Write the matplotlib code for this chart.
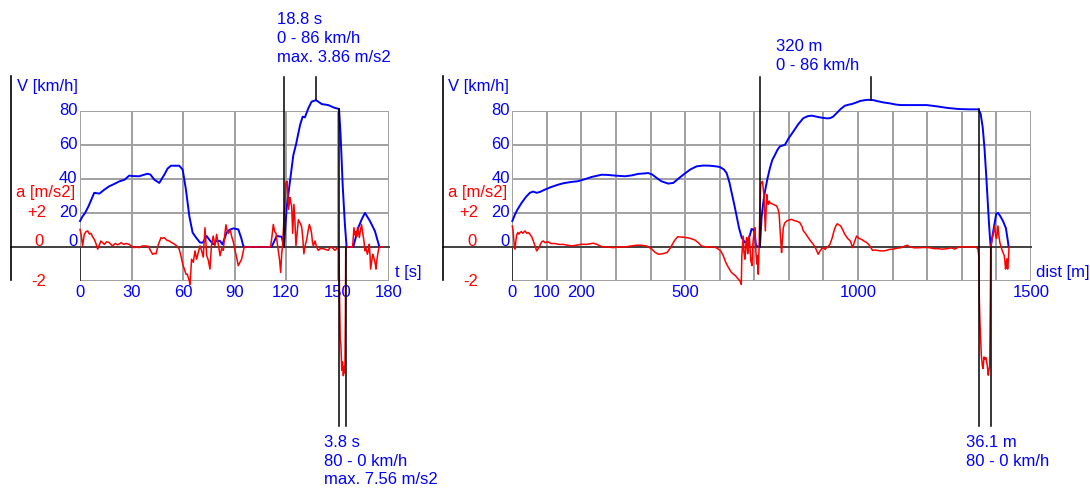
import numpy as np
import matplotlib.pyplot as plt

# ── Style ───────────────────────────────────────────
plt.rcParams['font.family'] = ['Liberation Sans', 'DejaVu Sans']
BLUE = "#0000ff"
RED = "#ff0000"
GRID = "#a0a0a0"
FS = 12

# ── Data: speed / acceleration vs time ──────────────
t_v = [0, 1.5, 3, 5, 8.3, 11.3, 14, 17, 20, 22.9, 26, 28.7, 31, 34.5, 37, 39.4, 41,
       43.3, 46.2, 49.1, 51, 53, 57.8, 59.8, 61.7, 63.7, 65.6, 67.6, 69.9, 71.5, 73.8,
       75.5, 77.6, 79.5, 81.6, 83, 85.4, 87, 89.3, 92.2, 94, 95.1, 96, 111.6, 113,
       114.6, 117.5, 118.8, 120.4, 122.3, 124.3, 125.8, 128.2, 129.7, 131, 133, 134.9,
       137.5, 140.8, 144.6, 148, 150.9, 151.8, 153, 154.3, 155.3, 159.2, 162.1, 164,
       166, 168.9, 171.8, 174.4]
v_t = [15.2, 18, 20, 24, 31.8, 31.3, 33.5, 35.6, 37, 38.5, 39.5, 41.9, 41.6, 41.5, 42.3,
       43, 42.5, 39.5, 37.6, 42.4, 46, 47.7, 47.7, 45.4, 33.7, 18, 8.4, 5.5, 2.6, 2.5,
       6.4, 4, 1.6, 3.5, 3.5, 1.5, 8.4, 10, 10.9, 10.3, 5, 0.6, 0, 0, 3, 6.4, 6, 0, 23,
       38.5, 54.1, 60, 71.6, 76.5, 76.1, 81.4, 85.3, 86.2, 83.9, 83.3, 81.8, 81, 65.8,
       36.6, 13.3, 0, 0, 11.3, 16, 20, 15.2, 9.3, 0]

t_a = [0, 0.7, 1.5, 2.5, 3.5, 4.5, 5.5, 6.4, 7.3, 8.3, 9.3, 10.3, 11.2, 12.2, 13.2,
       14.2, 15.5, 17, 18, 19, 20.5, 22, 24, 25.5, 26.8, 28.7, 30, 31.6, 33, 34.5, 36,
       38.4, 40, 41, 42.3, 43.5, 44.3, 45.5, 47.2, 48, 49.1, 50.5, 52, 53.5, 55, 56.5,
       57.8, 58.8, 59.8, 60.8, 61.7, 62.5, 63.7, 64.1, 65, 66, 67, 67.9, 69, 69.9, 70.8,
       71.8, 72.8, 73.8, 74.8, 75.7, 76.6, 77.6, 78.6, 79.6, 80.5, 81.6, 82.5, 83.5,
       84.2, 85, 85.8, 86.5, 87.5, 88.4, 89.3, 90.3, 91.2, 92.2, 93.2, 94.2, 95, 95.7,
       111, 111.8, 112.6, 113.4, 114.2, 114.8, 115.5, 116.3, 116.9, 117.5, 118, 118.8,
       119.4, 119.9, 120.6, 121.1, 121.5, 122.3, 122.8, 123.3, 123.9, 124.6, 125.2,
       125.8, 126.5, 127.2, 128.2, 129.1, 129.8, 130.4, 131.2, 132, 132.8, 133.6, 134.3,
       134.9, 135.4, 135.9, 136.9, 137.8, 138.8, 140, 141.7, 143, 144.6, 145.5, 146.6,
       147.5, 148.5, 149.5, 150.5, 150.9, 151.2, 151.6, 152, 152.5, 152.9, 153.4, 153.9,
       154.3, 154.6, 154.8, 158.8, 159.6, 160.2, 160.7, 161.2, 161.7, 162.2, 162.7,
       163.4, 164, 164.7, 165.4, 166, 166.7, 167.4, 168, 168.5, 169, 169.3, 170, 170.5,
       171.1, 171.6, 172, 172.4, 172.8, 173.2, 173.8, 174.4, 176.7]
a_t = [1.03, 0.7, 0.06, 0.74, 0.9, 0.94, 0.75, 0.8, 0.6, 0.45, 0.2, -0.13, 0.1, 0.35,
       0.25, 0.15, 0.3, 0.26, 0.15, 0.06, 0.2, 0.12, 0.25, 0.15, 0.2, 0.15, 0.05, -0.04,
       0, -0.04, 0.05, 0.06, 0.02, -0.2, -0.43, -0.38, -0.4, 0.1, 0.55, 0.5, 0.55, 0.4,
       0.35, 0.25, 0.16, 0.05, -0.13, -0.52, -1.0, -1.3, -1.6, -1.6, -2.0, -2.2, -0.72,
       -0.9, -0.23, -0.72, -0.3, 0.06, -0.2, -0.6, 1.13, -0.5, -0.8, -1.3, 0.1, 0.64,
       0.06, 0.74, 0.2, -0.52, -0.1, -0.2, 0.6, 1.3, 0.9, 0.8, 1.0, 0.6, 0.3, -0.2, -0.6,
       -1.1, -0.9, -0.7, -0.3, 0, 0, 0.6, 1.32, 0.9, 0.8, 0.3, -0.2, -0.8, -1.5, -0.4,
       0.06, 1.6, 2.5, 3.76, 3.86, 3.0, 2.2, 2.9, 2.6, 2.4, 0.8, 2.5, 1.5, 0.06, 0.8, 1.6,
       1.4, 1.2, 0.5, -0.4, 0.1, 0.4, 0.9, 1.32, 1.1, 0.8, 0.3, 0.06, 0.35, 0, -0.2,
       -0.1, -0.1, -0.15, -0.2, -0.05, 0, -0.1, -0.2, -0.1, 0, -0.5, -3.0, -5.4, -5.8,
       -7.24, -6.75, -7.56, -7.0, -7.4, -4.0, 0, 0, 1.13, 0.7, 0.9, 0.6, 1.13, 0.9, 0.55,
       1.0, 1.32, 0.8, 0.35, -0.23, -0.1, -0.43, -0.2, 0.16, -0.6, -1.3, -0.8, -0.43,
       -0.6, -0.8, -1.0, -1.3, -0.9, -0.6, -0.2, 0, 0]

# ── Data: speed / acceleration vs distance ──────────
d_v = [0, 7.8, 15, 27, 40, 51, 60, 70.6, 80, 94.6, 110, 133, 150, 172, 190, 205, 218,
       229.7, 258.6, 275, 297, 326, 345, 364.5, 384, 393, 405, 417.7, 432, 451, 465.7,
       480, 494.6, 515, 533, 552, 572, 590, 600.8, 612, 620, 628, 634.6, 642, 649, 656,
       663.6, 673, 680, 687.6, 692, 697, 701, 705, 716.5, 721, 726, 731, 738, 745.4, 752,
       760, 767, 774, 781, 788.8, 800, 812.8, 827, 841.8, 855, 866, 880, 895, 910, 919,
       928, 938, 950, 962, 972, 981.8, 995, 1006, 1020, 1030, 1045, 1054, 1075, 1092.6,
       1110, 1124, 1160, 1199, 1230, 1260, 1290, 1320, 1349, 1355, 1361, 1366, 1371,
       1375, 1379, 1382, 1384, 1392, 1400, 1405, 1412, 1420, 1428, 1434, 1436]
v_d = [15.2, 19.1, 22, 25.9, 29.5, 31.8, 32.5, 31.8, 32.3, 33.7, 35, 36.6, 37.5, 38.2,
       38.6, 39.5, 40.3, 41.1, 42.4, 42.3, 41.9, 41.5, 42, 42.9, 43.2, 43.4, 42.5, 40.5,
       38.5, 37.2, 37.6, 40, 42.4, 45.5, 47.3, 47.8, 47.7, 47.3, 46.9, 45.5, 43.4, 38,
       31.8, 25, 18.1, 11, 5.5, 2.6, 3.5, 7, 10.5, 10.3, 8, 0.6, 0, 17.2, 26, 32.7, 40,
       46.4, 51, 54.1, 57, 59, 59.5, 60, 64, 67.7, 72, 75.6, 76.8, 77.1, 76.5, 75.9, 75.5,
       75.6, 76.5, 78.5, 81, 82.9, 83.5, 83.9, 84.8, 85.7, 86.2, 86.4, 86.2, 85.7, 84.8,
       84.3, 83.6, 83.3, 83.3, 83.3, 82.5, 81.6, 81, 80.8, 80.8, 78, 70, 58, 42, 28, 14,
       5, 0, 10, 19.5, 20, 18, 15, 11, 3, 0]

d_a = [0, 2, 4, 6, 7.8, 10, 12.6, 16, 19, 22, 26, 30, 36.7, 42, 46, 51, 56, 60.8, 65,
       70.6, 75, 80.3, 85, 89.7, 95, 104, 112, 123.5, 135, 147.6, 160, 172, 185, 200.8,
       215, 234, 245, 258.6, 275, 292, 310, 326, 345, 360, 374, 390, 404, 412, 422.6,
       435, 447.5, 456, 466, 472, 478.5, 490, 503, 515, 528, 538, 547, 560, 575, 590,
       603, 610, 617.6, 625, 634, 640, 646, 652, 658.7, 662.5, 664, 668, 670, 673, 676,
       678, 681, 683, 685.6, 688, 690, 693.4, 696, 699, 702, 704, 707, 709, 711.6, 714,
       716, 718.6, 721, 724, 726, 728, 730, 732, 734, 736, 738, 740.6, 743, 745, 750,
       755, 760, 765, 769, 772, 774, 776, 779, 781, 784, 788, 794, 800, 808, 815, 825,
       832, 838, 842, 848, 856, 863, 870.7, 878, 885, 890, 895, 899.6, 905, 908.7, 913,
       919, 925, 930.6, 935, 940, 945, 950, 956, 962, 970, 978, 982, 984.6, 990, 996,
       1003, 1010, 1017, 1025, 1033, 1042, 1050, 1063.6, 1075, 1083, 1090, 1100, 1112,
       1125, 1135, 1143, 1150, 1163, 1175, 1190, 1205, 1220, 1232, 1243, 1260, 1270,
       1280, 1290, 1299, 1320, 1340, 1347, 1350, 1351, 1353, 1355, 1357, 1360, 1362,
       1364.6, 1368, 1370, 1374, 1377, 1379, 1381, 1383, 1384, 1388, 1392, 1395.6, 1398,
       1401, 1405, 1408, 1410.5, 1414, 1417, 1420, 1423, 1425, 1427, 1429, 1431, 1433,
       1435, 1436.5, 1437]
a_d = [1.23, 1.0, 0.5, 0, -0.13, 0.3, 0.7, 0.85, 0.75, 0.84, 0.9, 0.8, 0.94, 0.8, 0.85,
       0.74, 0.6, 0.35, 0.1, -0.23, -0.1, 0.1, 0.3, 0.35, 0.25, 0.3, 0.2, 0.2, 0.15, 0.15,
       0.1, 0.06, 0.1, 0.16, 0.15, 0.22, 0.15, 0.02, 0, -0.04, 0, 0, 0.06, 0.1, 0.1, 0.05,
       -0.13, -0.3, -0.43, -0.4, -0.33, -0.1, 0.26, 0.45, 0.6, 0.58, 0.55, 0.5, 0.41,
       0.25, 0.06, 0, 0, -0.04, -0.23, -0.5, -0.91, -1.2, -1.5, -1.6, -1.7, -1.85, -2.0,
       -2.2, -0.5, 0.64, -0.3, -0.72, 0.2, 0.55, -0.4, 0.1, 0.64, -0.2, -0.8, -1.1, 0.2,
       0.8, 1.13, 0, -1.0, -0.5, -1.6, 0, 2.0, 3.66, 3.8, 3.85, 3.4, 3.08, 2.0, 0.94, 2.0,
       3.08, 2.6, 2.5, 2.7, 2.6, 2.55, 2.5, 2.45, 2.4, 2.2, 1.9, 1.2, 0.55, -0.33, 0.3,
       1.13, 1.4, 1.52, 1.58, 1.62, 1.55, 1.5, 1.42, 1.2, 0.94, 0.8, 0.55, 0.35, 0.16,
       -0.1, -0.43, -0.25, -0.1, -0.04, -0.15, -0.05, 0, 0.16, 0.5, 0.94, 1.2, 1.36, 1.3,
       1.23, 1.0, 0.74, 0.5, 0.35, 0.1, -0.04, 0.3, 0.64, 0.5, 0.45, 0.35, 0.26, 0.1,
       -0.2, -0.18, -0.23, -0.23, -0.2, -0.15, -0.13, -0.08, -0.04, 0.05, 0.1, 0, -0.05,
       -0.05, -0.03, -0.04, -0.1, -0.1, -0.13, -0.1, -0.05, -0.13, -0.02, 0, 0, 0, -0.1,
       -0.6, -3.0, -4.5, -5.5, -6.4, -7.0, -7.14, -6.46, -6.6, -6.5, -6.95, -7.53, -7.2,
       -7.0, -3.0, 0, 0.5, 0.84, 1.23, 0.7, 0.5, 1.23, 0.6, 0.26, 0, -0.2, -0.35, -0.5,
       -0.8, -1.3, -0.9, -0.7, -1.3, -0.8, -0.13, 0]

# ── Markers (acceleration / braking runs) ───────────
t_marks = {"acc": (118.8, 137.6), "peak_v": 86.2, "dec": (151.0, 154.8), "dec_v": 81.0}
d_marks = {"acc": (718, 1038), "peak_v": 86.4, "dec": (1349, 1384), "dec_v": 80.8}
t_top_text = "18.8 s\n0 - 86 km/h\nmax. 3.86 m/s2"
t_bot_text = "3.8 s\n80 - 0 km/h\nmax. 7.56 m/s2"
d_top_text = "320 m\n0 - 86 km/h"
d_bot_text = "36.1 m\n80 - 0 km/h"

V_TICKS = [80, 60, 40, 20]
A_TICKS = [("+2", 20), ("-2", -20)]
A_SCALE = 10   # 1 m/s2 drawn as 10 km/h on the shared axis

# ── Figure ───────────────────────────────────────────
W, H = 1090, 488
fig = plt.figure(figsize=(W / 100, H / 100), dpi=100)


def px_axes(x0, x1, y_top=110.7, y_bot=281):
    return fig.add_axes([x0 / W, 1 - y_bot / H, (x1 - x0) / W, (y_bot - y_top) / H])


def panel(ax, xmax, step, xticks, xlabel, axis_x, xs_v, vs, xs_a, As, marks,
          top_text, top_x, top_y, bot_text, bot_x):
    ax.set_xlim(0, xmax)
    ax.set_ylim(-20, 80)
    ax.axis("off")

    # grid
    for gx in np.arange(0, xmax + 1, step):
        ax.axvline(gx, color=GRID, lw=1.4, zorder=1)
    for gy in (-20, 20, 40, 60, 80):
        ax.axhline(gy, color=GRID, lw=1.4, zorder=1)
    ax.plot([0, 0], [-20, 0], color="#202020", lw=1.2, zorder=2)
    ax.plot([axis_x, xmax], [0, 0], color="#404040", lw=1.4, clip_on=False, zorder=2)
    ax.plot([axis_x, axis_x], [-19.5, 100.5], color="black", lw=1.2, clip_on=False)

    # curves
    ax.plot(xs_v, vs, color=BLUE, lw=1.4, zorder=3, clip_on=False)
    ax.plot(xs_a, np.array(As) * A_SCALE, color=RED, lw=1.1, zorder=4, clip_on=False)

    # measurement markers
    a0, a1 = marks["acc"]
    d0, d1 = marks["dec"]
    kw = dict(color="black", lw=1.1, clip_on=False, zorder=5)
    ax.plot([a0, a0], [0, 100], **kw)
    ax.plot([a1, a1], [marks["peak_v"], 100], **kw)
    ax.plot([d0, d0], [marks["dec_v"], -105], **kw)
    ax.plot([d1, d1], [0, -105], **kw)
    ax.text(top_x, top_y, top_text, color=BLUE, fontsize=FS, ha="left", va="top",
            linespacing=1.36)
    ax.text(bot_x, -110.5, bot_text, color=BLUE, fontsize=FS, ha="left", va="top",
            linespacing=1.3)

    # axis labels
    off = dict(textcoords="offset points", xycoords=("axes fraction", "data"))
    for v in V_TICKS:
        ax.annotate(str(v), (0, v), xytext=(-1.8, 0), color=BLUE, fontsize=FS,
                    ha="right", va="center", **off)
    ax.annotate("0", (0, 3.3), xytext=(-1.8, 0), color=BLUE, fontsize=FS,
                ha="right", va="center", **off)
    ax.annotate("0", (0, 3.3), xytext=(-26, 0), color=RED, fontsize=FS,
                ha="right", va="center", **off)
    for lab, v in A_TICKS:
        ax.annotate(lab, (0, v), xytext=(-24.5, 0), color=RED, fontsize=FS,
                    ha="right", va="center", **off)
    ax.annotate("V [km/h]", (axis_x, 94.4), xytext=(4.0, 0), textcoords="offset points",
                color=BLUE, fontsize=FS, ha="left", va="center", annotation_clip=False)
    ax.annotate("a [m/s2]", (axis_x, 31.9), xytext=(3.4, 0), textcoords="offset points",
                color=RED, fontsize=FS, ha="left", va="center", annotation_clip=False)
    for x in xticks:
        ax.text(x, -26.5, str(x), color=BLUE, fontsize=FS, ha="center", va="center")
    ax.annotate(xlabel, (xmax, -14.9), xytext=(4.0, 0), textcoords="offset points",
                color=BLUE, fontsize=FS, ha="left", va="center", annotation_clip=False)


ax1 = px_axes(80, 389)
panel(ax1, 180, 30, [0, 30, 60, 90, 120, 150, 180], "t [s]", -40.2,
      t_v, v_t, t_a, a_t, t_marks, t_top_text, 114.8, 138.2, t_bot_text, 142.1)

ax2 = px_axes(512.3, 1030.8)
panel(ax2, 1500, 100, [0, 100, 200, 500, 1000, 1500], "dist [m]", -201,
      d_v, v_d, d_a, a_d, d_marks, d_top_text, 762.8, 122, d_bot_text, 1311.6)

plt.savefig("out.png", dpi=100)
